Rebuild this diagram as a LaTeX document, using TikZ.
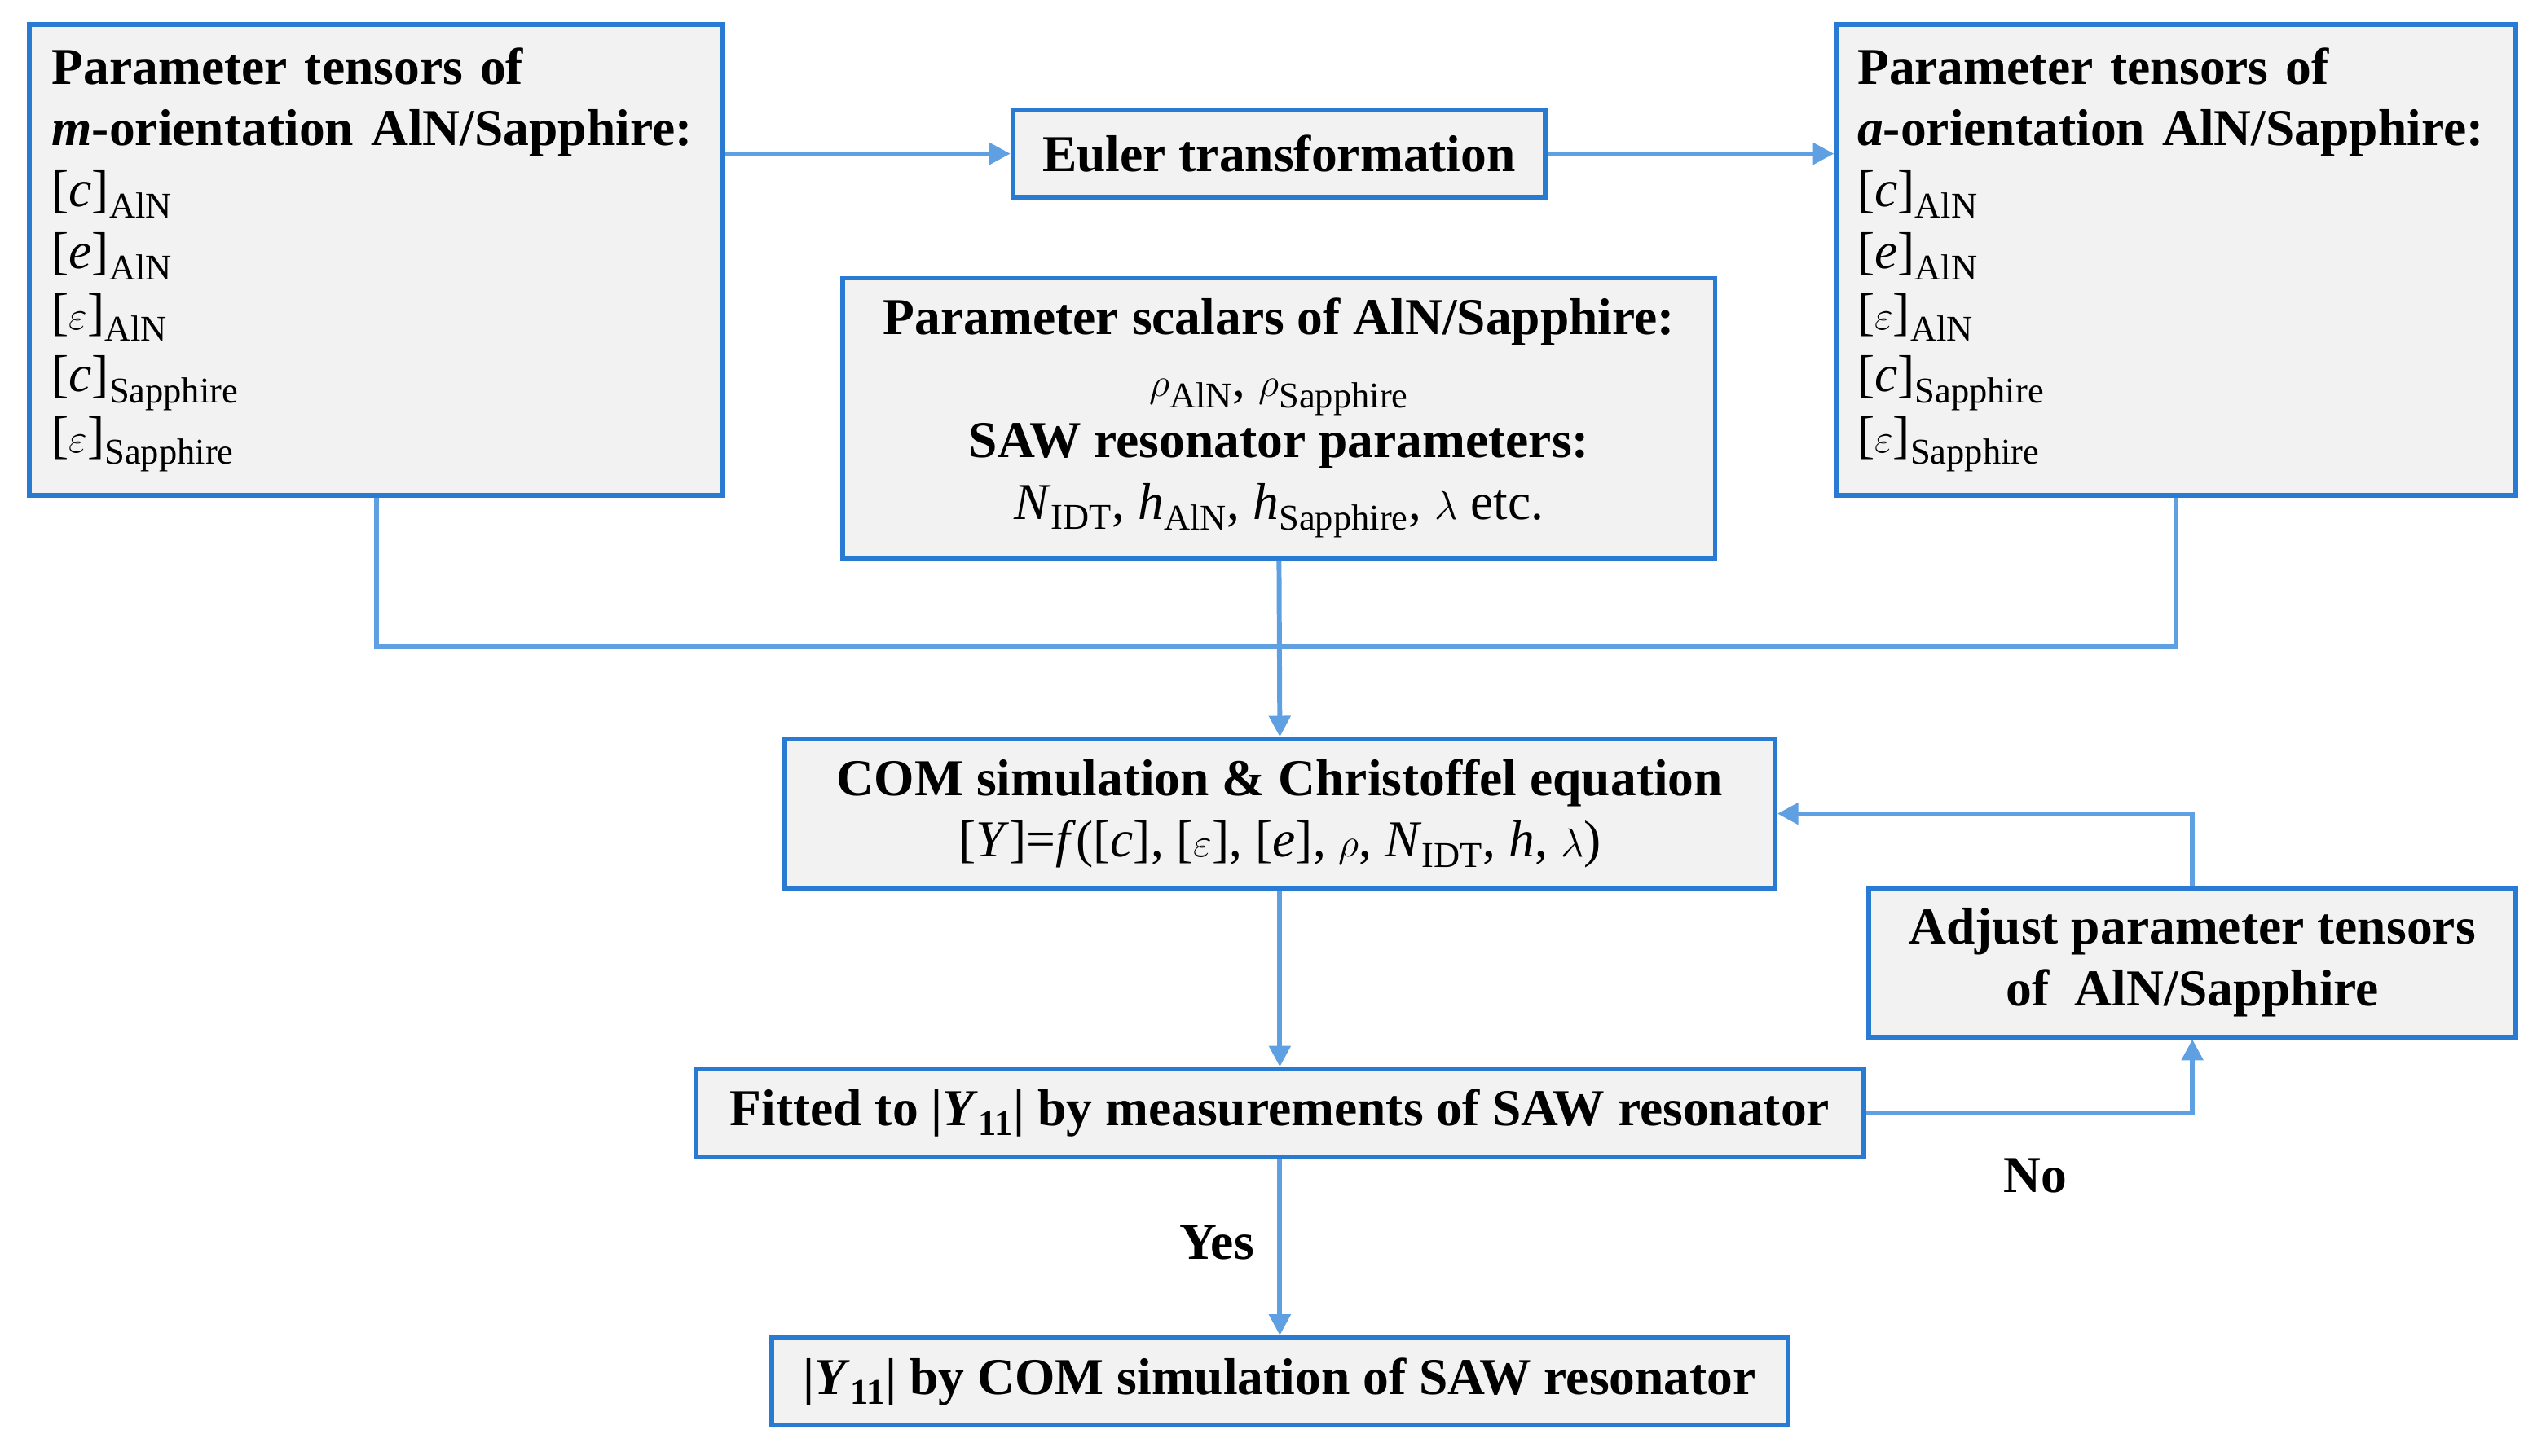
\documentclass[tikz,border=0pt]{standalone}
\usepackage{fontspec}
\setmainfont{Liberation Serif}
\usetikzlibrary{arrows.meta}
\definecolor{cb}{RGB}{40,122,210}
\definecolor{ca}{RGB}{95,160,226}
\definecolor{cf}{RGB}{242,242,242}
\newcommand{\sbs}[1]{\textsubscript{\normalfont #1}}
\begin{document}
\begin{tikzpicture}[x=1pt,y=-1pt,
  box/.style={draw=cb,line width=3pt,fill=cf,inner sep=0pt,font=\fontsize{32}{38}\selectfont\bfseries},
  arr/.style={draw=ca,line width=3pt,-{Triangle[length=13pt,width=13pt]}},
  ln/.style={draw=ca,line width=3pt}]
\useasboundingbox (0,0) rectangle (1568,900);
\node[box,minimum width=429pt,minimum height=291pt,align=left,text width=401pt] (left) at (232.5,160.5)
 {Parameter tensors of\\ \textit{m}-orientation AlN/Sapphire:\\ \normalfont [\textit{c}]\sbs{AlN}\\ \normalfont [\textit{e}]\sbs{AlN}\\ \normalfont [$\varepsilon$]\sbs{AlN}\\ \normalfont [\textit{c}]\sbs{Sapphire}\\ \normalfont [$\varepsilon$]\sbs{Sapphire}};
\node[box,minimum width=420pt,minimum height=291pt,align=left,text width=394pt] (right) at (1345,160.5)
 {Parameter tensors of\\ \textit{a}-orientation AlN/Sapphire:\\ \normalfont [\textit{c}]\sbs{AlN}\\ \normalfont [\textit{e}]\sbs{AlN}\\ \normalfont [$\varepsilon$]\sbs{AlN}\\ \normalfont [\textit{c}]\sbs{Sapphire}\\ \normalfont [$\varepsilon$]\sbs{Sapphire}};
\node[box,minimum width=329pt,minimum height=54pt] (euler) at (790.5,95) {Euler transformation};
\node[box,minimum width=539pt,minimum height=173pt,align=center] (scal) at (790.5,258.5)
 {Parameter scalars of AlN/Sapphire:\\ \normalfont $\rho$\sbs{AlN}, $\rho$\sbs{Sapphire}\\ SAW resonator parameters:\\ \normalfont \textit{N}\sbs{IDT}, \textit{h}\sbs{AlN}, \textit{h}\sbs{Sapphire}, $\lambda$ etc.};
\node[box,minimum width=612pt,minimum height=92pt,align=center] (com) at (791,503)
 {COM simulation \& Christoffel equation\\ \normalfont [\textit{Y}]=\textit{f}([\textit{c}], [$\varepsilon$], [\textit{e}], $\rho$, \textit{N}\sbs{IDT}, \textit{h}, $\lambda$)};
\node[box,minimum width=400pt,minimum height=92pt,align=center] (adj) at (1355,595)
 {Adjust parameter tensors\\ of~ AlN/Sapphire};
\node[box,minimum width=722pt,minimum height=54pt] (fit) at (791,688)
 {Fitted to |\textit{Y}\textsubscript{11}| by measurements of SAW resonator};
\node[box,minimum width=628pt,minimum height=54pt] (fin) at (791,854)
 {|\textit{Y}\textsubscript{11}| by COM simulation of SAW resonator};
\coordinate (j) at (790.5,400);
\draw[arr] (euler.west -| left.east) -- (euler.west);
\draw[arr] (euler.east) -- (euler.east -| right.west);
\draw[ln] (left.south) |- (j) -| (right.south);
\draw[arr] (scal.south) -- (com.north);
\draw[arr] (com.south) -- (fit.north);
\draw[arr] (fit.east) -| (adj.south);
\draw[arr] (adj.north) |- (com.east);
\draw[arr] (fit.south) -- (fin.north);
\node[font=\fontsize{32}{38}\selectfont\bfseries] (yes) at (752,768) {Yes};
\node[font=\fontsize{32}{38}\selectfont\bfseries] (no) at (1258,727) {No};
\end{tikzpicture}
\end{document}
